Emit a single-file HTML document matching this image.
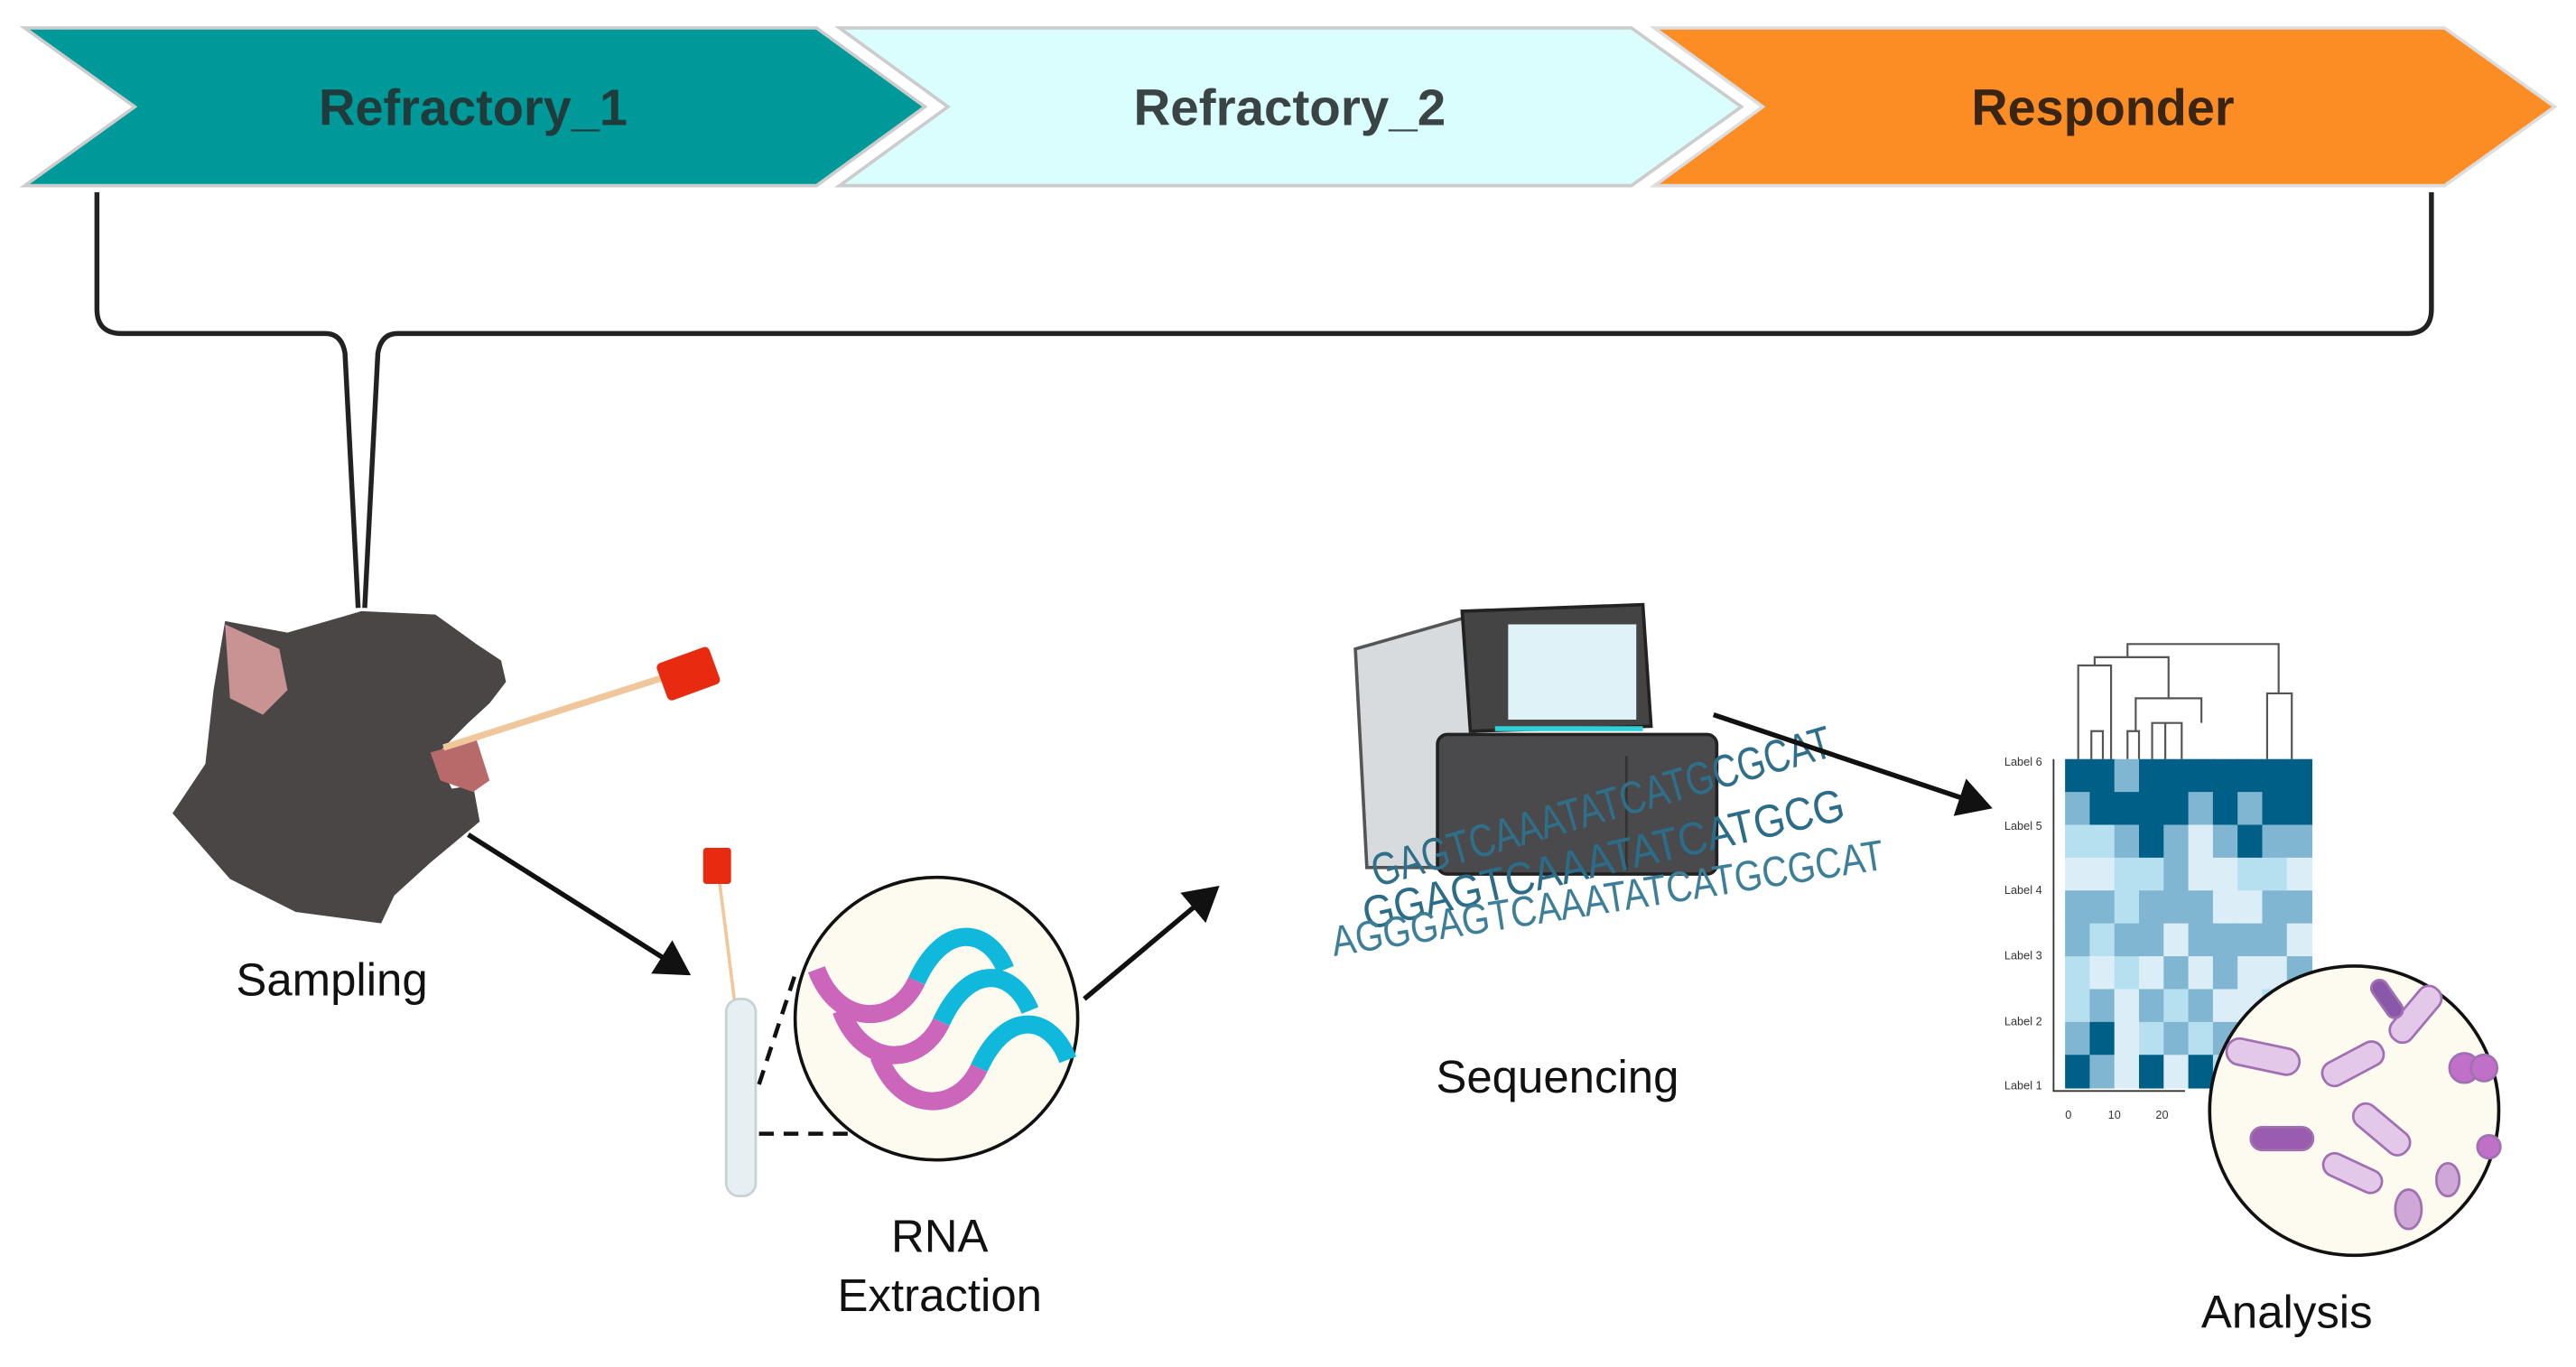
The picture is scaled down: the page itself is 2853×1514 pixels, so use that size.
<!DOCTYPE html>
<html><head><meta charset="utf-8"><style>
html,body{margin:0;padding:0;background:#fff;}
svg{display:block;}
text{font-family:"Liberation Sans",sans-serif;}
</style></head><body>
<svg width="2853" height="1514" viewBox="0 0 1568 832" preserveAspectRatio="none" xmlns="http://www.w3.org/2000/svg">
<defs>
<marker id="ah" markerWidth="8" markerHeight="8" refX="6" refY="4" orient="auto" markerUnits="strokeWidth"><path d="M0,0 L7,4 L0,8 z" fill="#111"/></marker>
</defs>
<polygon points="15,17 497,17 563,65 497,113 15,113 82,65" fill="#00999a" stroke="#ccc" stroke-width="2"/>
<polygon points="511,17 993,17 1060,65 993,113 511,113 577,65" fill="#dafdfd" stroke="#ccc" stroke-width="2"/>
<polygon points="1007,17 1488,17 1555,65 1488,113 1007,113 1073,65" fill="#fc8c24" stroke="#ddd" stroke-width="2"/>
<text x="288" y="76" font-size="31" font-weight="bold" fill="#1f3b3b" text-anchor="middle" textLength="188" lengthAdjust="spacingAndGlyphs">Refractory_1</text>
<text x="785" y="76" font-size="31" font-weight="bold" fill="#3a4444" text-anchor="middle" textLength="190" lengthAdjust="spacingAndGlyphs">Refractory_2</text>
<text x="1280" y="76" font-size="31" font-weight="bold" fill="#3a2412" text-anchor="middle" textLength="160" lengthAdjust="spacingAndGlyphs">Responder</text>
<path d="M59,117 L59,188 Q59,203 74,203 L198,203 Q208,203 210,215 L218,370 M222,370 L230,215 Q232,203 242,203 L1465,203 Q1480,203 1480,188 L1480,117" fill="none" stroke="#222" stroke-width="3"/>
<path d="M137,378 L175,385 L220,372 L265,374 L290,392 L305,402 L308,415 L298,428 L285,440 L265,460 L275,480 L288,478 L292,500 L262,525 L240,545 L232,562 L180,555 L140,535 L105,495 L125,465 L130,420 Z" fill="#4a4646"/>
<path d="M137,380 L170,395 L175,420 L160,435 L140,425 Z" fill="#c99393"/>
<path d="M262,458 L290,450 L298,475 L288,482 L268,475 Z" fill="#b86a6a"/>
<line x1="270" y1="455" x2="405" y2="412" stroke="#f0c79a" stroke-width="4"/>
<rect x="402" y="398" width="34" height="24" rx="3" fill="#e82b10" transform="rotate(-20 419 410)"/>
<text x="202" y="606" font-size="28" fill="#111" text-anchor="middle">Sampling</text>
<line x1="285" y1="508" x2="418" y2="592" stroke="#111" stroke-width="3" marker-end="url(#ah)"/>
<line x1="438" y1="537" x2="451" y2="640" stroke="#f0c79a" stroke-width="2"/>
<rect x="428" y="516" width="17" height="22" rx="2" fill="#e82b10"/>
<rect x="442" y="608" width="18" height="120" rx="8" fill="#e6eff1" stroke="#c8d2d4" stroke-width="1.5"/>
<path d="M462,660 L485,590 M462,690 L525,690" stroke="#111" stroke-width="2.5" stroke-dasharray="9,6" fill="none"/>
<ellipse cx="570" cy="620" rx="86" ry="86" fill="#fdfaf0" stroke="#111" stroke-width="2"/>
<g fill="none" stroke-width="11" stroke-linecap="butt">
<path d="M497,590 C510,625 545,625 558,597" stroke="#cc66bb"/>
<path d="M558,597 C575,560 602,565 612,590" stroke="#10b8dc"/>
<path d="M512,615 C525,650 560,650 573,622" stroke="#cc66bb"/>
<path d="M573,622 C590,585 617,590 627,615" stroke="#10b8dc"/>
<path d="M535,643 C548,678 583,678 596,650" stroke="#cc66bb"/>
<path d="M596,650 C613,613 640,618 650,645" stroke="#10b8dc"/>
</g>
<text x="572" y="762" font-size="28" fill="#111" text-anchor="middle">RNA</text>
<text x="572" y="798" font-size="28" fill="#111" text-anchor="middle">Extraction</text>
<line x1="660" y1="608" x2="740" y2="541" stroke="#111" stroke-width="3" marker-end="url(#ah)"/>
<path d="M825,395 L895,375 L900,528 L832,528 Z" fill="#d8dbdd" stroke="#555" stroke-width="2"/>
<path d="M890,372 L1000,368 L1005,442 L895,445 Z" fill="#444" stroke="#222" stroke-width="2"/>
<rect x="918" y="380" width="78" height="58" fill="#dff2f8"/>
<rect x="910" y="442" width="90" height="3" fill="#30d0d8"/>
<rect x="875" y="447" width="170" height="85" rx="6" fill="#4a4a4c" stroke="#222" stroke-width="2"/>
<line x1="990" y1="460" x2="990" y2="530" stroke="#333" stroke-width="1.5"/>
<text x="838" y="540" font-size="28" transform="rotate(-16 838 540)" fill="#2f6f8a" textLength="290" lengthAdjust="spacingAndGlyphs">GAGTCAAATATCATGCGCAT</text>
<text x="832" y="566" font-size="28" transform="rotate(-13 832 566)" fill="#2b6c88" textLength="300" lengthAdjust="spacingAndGlyphs">GGAGTCAAATATCATGCG</text>
<text x="812" y="582" font-size="26" transform="rotate(-9 812 582)" fill="#3d7f98" textLength="340" lengthAdjust="spacingAndGlyphs">AGGGAGTCAAATATCATGCGCAT</text>
<text x="948" y="665" font-size="28" fill="#111" text-anchor="middle">Sequencing</text>
<line x1="1043" y1="435" x2="1210" y2="491" stroke="#111" stroke-width="3" marker-end="url(#ah)"/>
<g fill="none" stroke="#555" stroke-width="1.2">
<path d="M1265,462 V405 H1285 V462 M1273,462 V445 H1280 V462"/>
<path d="M1295,462 V445 H1302 V462 M1310,462 V440 H1328 V462 M1318,462 V440"/>
<path d="M1300,445 V425 H1340 V440 M1320,425 V412 M1275,405 V400 H1320 V412 M1295,400 V392 H1387 V422 M1380,462 V422 H1395 V462"/>
</g>
<g id="hm"></g>
<g font-size="7" fill="#333" text-anchor="end">
<text x="1243" y="466">Label 6</text><text x="1243" y="505">Label 5</text><text x="1243" y="544">Label 4</text><text x="1243" y="584">Label 3</text><text x="1243" y="624">Label 2</text><text x="1243" y="663">Label 1</text>
<text x="1259" y="681" text-anchor="middle">0</text><text x="1287" y="681" text-anchor="middle">10</text><text x="1316" y="681" text-anchor="middle">20</text>
</g>
<path d="M1250,462 V664 H1330" stroke="#333" fill="none" stroke-width="1"/>
<ellipse cx="1433" cy="676" rx="88" ry="88" fill="#fdfaf0" stroke="#111" stroke-width="2"/>
<g stroke="#a070b0" stroke-width="1.5">
<rect x="1355" y="635" width="45" height="16" rx="8" fill="#e3c8ea" transform="rotate(12 1377 643)"/>
<rect x="1412" y="640" width="40" height="15" rx="7" fill="#e3c8ea" transform="rotate(-28 1432 647)"/>
<rect x="1450" y="610" width="40" height="15" rx="7" fill="#e3c8ea" transform="rotate(-50 1470 617)"/>
<rect x="1370" y="686" width="38" height="14" rx="7" fill="#9a5cae"/>
<rect x="1430" y="680" width="40" height="15" rx="7" fill="#e3c8ea" transform="rotate(40 1450 687)"/>
<rect x="1413" y="707" width="38" height="14" rx="7" fill="#e3c8ea" transform="rotate(25 1432 714)"/>
<rect x="1440" y="603" width="26" height="10" rx="5" fill="#8a58a8" transform="rotate(55 1453 608)"/>
<ellipse cx="1466" cy="736" rx="8" ry="12" fill="#d0a8d8"/>
<ellipse cx="1490" cy="718" rx="7" ry="10" fill="#d0a8d8"/>
<circle cx="1500" cy="650" r="9" fill="#c070c8"/>
<circle cx="1512" cy="650" r="8" fill="#c070c8"/>
<circle cx="1515" cy="698" r="7" fill="#c070c8"/>
</g>
<text x="1392" y="808" font-size="28" fill="#111" text-anchor="middle">Analysis</text>
<script>
(function(){
var D="#005f87",M="#80b6d2",L="#b6dff0",V="#dbeef8";
var g=[
[D,D,M,D,D,D,D,D,D,D],
[M,D,D,D,D,M,D,M,D,D],
[L,L,M,D,M,V,M,D,M,M],
[V,V,L,L,M,V,V,L,L,V],
[M,M,L,M,M,M,V,V,M,M],
[M,L,M,M,V,M,M,M,M,V],
[L,V,L,V,M,V,M,V,V,M],
[L,M,V,M,L,M,V,V,L,L],
[M,D,V,L,M,L,M,L,M,L],
[D,M,V,D,V,D,L,L,M,L]];
var ns="http://www.w3.org/2000/svg",hm=document.getElementById("hm");
for(var r=0;r<10;r++)for(var c=0;c<10;c++){var e=document.createElementNS(ns,"rect");
e.setAttribute("x",1257+c*15);e.setAttribute("y",462+r*20);e.setAttribute("width",15.5);e.setAttribute("height",20.5);e.setAttribute("fill",g[r][c]);hm.appendChild(e);}
})();
</script>
</svg>
</body></html>
